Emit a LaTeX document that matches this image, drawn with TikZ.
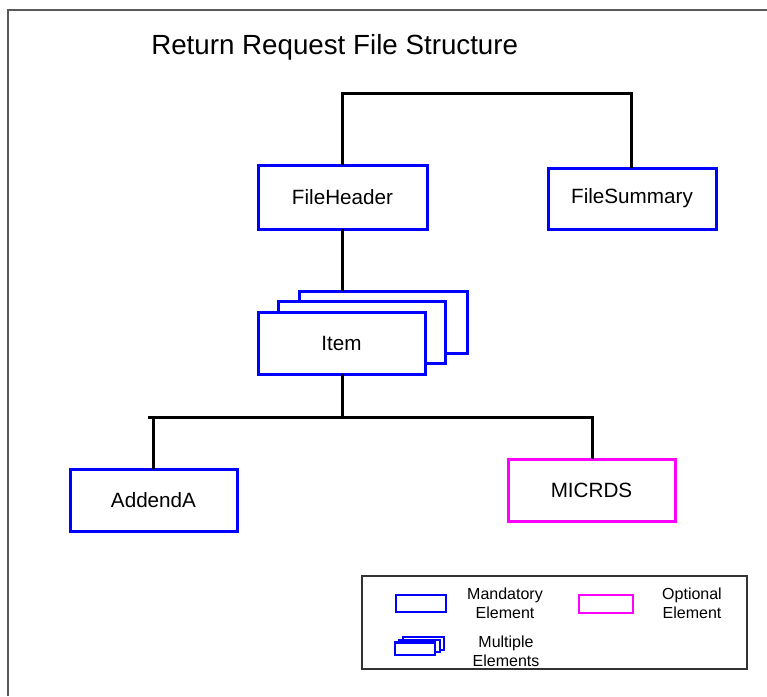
\documentclass[tikz,border=0pt]{standalone}
\usepackage{fontspec}
\setmainfont{Liberation Sans}
\definecolor{mag}{RGB}{255,0,255}
\definecolor{blu}{RGB}{0,0,255}
\begin{document}
\begin{tikzpicture}[x=0.75pt,y=-0.75pt,
  mand/.style={draw=blu,line width=2.25pt,fill=white},
  opt/.style={draw=mag,line width=2.25pt,fill=white},
  conn/.style={draw=black,line width=2.25pt},
  lbl/.style={font=\fontsize{15.5}{18}\selectfont,text=black},
  leg/.style={font=\fontsize{12}{14.5}\selectfont,align=center,text=black}]
\useasboundingbox (0,0) rectangle (767,696);
\draw[line width=1.3pt,draw=black!65] (8,696) -- (8,10) -- (767,10);
\node[anchor=base west,inner sep=0pt,font=\fontsize{20.8}{24}\selectfont] (title) at (151,54) {Return Request File Structure};
% top level
\draw[mand] (258,165) rectangle (427,229);
\node[lbl] (fh) at (342.5,197) {FileHeader};
\draw[mand] (548,168) rectangle (716,229);
\node[lbl] (fs) at (632,198.5) {FileSummary};
\coordinate (fhT) at (342,165);
\coordinate (fsT) at (631,168);
\coordinate (fhB) at (342,229);
\draw[conn] (fhT) -- (342,93) -- (631,93) -- (fsT);
% item stack
\draw[mand] (299,291) rectangle (467,353);
\draw[mand] (278,301) rectangle (445,363);
\draw[mand] (258,312) rectangle (425,374);
\node[lbl] (item) at (341.5,343) {Item};
\coordinate (itT) at (342,291);
\coordinate (itB) at (342,374);
\draw[conn] (fhB) -- (itT);
% children
\draw[mand] (70,469) rectangle (237,531);
\node[lbl] (add) at (153.5,500) {AddendA};
\draw[opt] (508,459) rectangle (675,521);
\node[lbl] (mic) at (591.5,490) {MICRDS};
\coordinate (adT) at (153,469);
\coordinate (miT) at (592,459);
\coordinate (bus) at (342,417);
\draw[conn] (itB) -- (bus);
\draw[conn] (148,417) -- (592,417);
\draw[conn] (153,416) -- (adT);
\draw[conn] (592,416) -- (miT);
% legend
\draw[line width=0.9pt,draw=black!80] (362,576) rectangle (747,669);
\draw[draw=blu,line width=1.9pt] (396,595) rectangle (446,612);
\node[leg] (lm) at (505,603.5) {Mandatory\\Element};
\draw[draw=mag,line width=1.9pt] (579,595) rectangle (633,613);
\node[leg] (lo) at (692,603.5) {Optional\\Element};
\draw[draw=blu,line width=1.6pt,fill=white] (403,637) rectangle (444,650);
\draw[draw=blu,line width=1.6pt,fill=white] (399,640) rectangle (440,652);
\draw[draw=blu,line width=1.6pt,fill=white] (395,642.5) rectangle (435,655);
\node[leg] (lmu) at (506,651.5) {Multiple\\Elements};
\end{tikzpicture}
\end{document}
